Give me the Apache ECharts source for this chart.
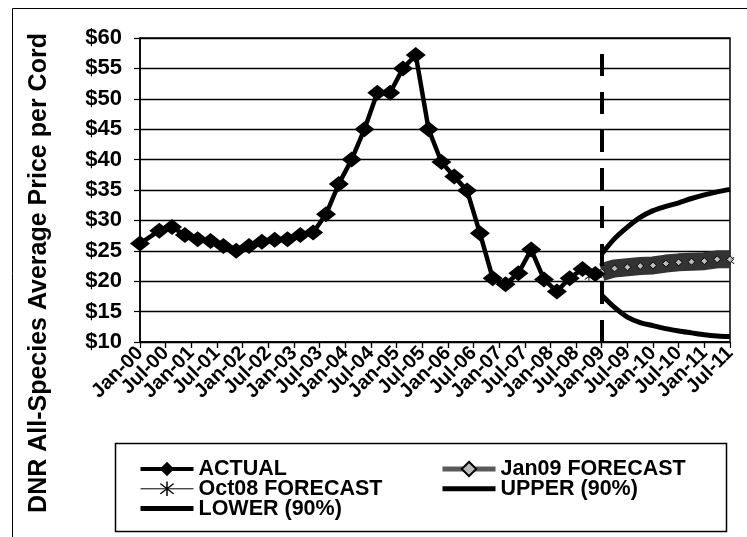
<!DOCTYPE html>
<html><head><meta charset="utf-8">
<script src="https://cdn.jsdelivr.net/npm/echarts@6/dist/echarts.min.js"></script>
<style>html,body{margin:0;padding:0;background:#fff}#c{width:747px;height:537px}</style>
</head><body><div id="c"></div><script>
// Tick labels (one every 6 months, starting Jan-00 = month 0)
const tickLabels = ['Jan-00','Jul-00','Jan-01','Jul-01','Jan-02','Jul-02','Jan-03','Jul-03','Jan-04','Jul-04','Jan-05','Jul-05','Jan-06','Jul-06','Jan-07','Jul-07','Jan-08','Jul-08','Jan-09','Jul-09','Jan-10','Jul-10','Jan-11','Jul-11'];
// ACTUAL (months since Jan-00, $/cord)
const actualMonths = [0,4.5,7.5,10.5,13.5,16.5,19.5,22.5,25.5,28.5,31.5,34.5,37.5,40.5,43.5,46.5,49.5,52.5,55.5,58.5,61.5,64.5,67.5,70.5,73.5,76.5,79.5,82.5,85.5,88.5,91.5,94.5,97.5,100.5,103.5,106.5];
const actualValues = [26.2,28.3,28.9,27.6,26.9,26.6,25.8,25.0,25.8,26.5,26.8,26.9,27.6,28.0,31.0,36.0,40.0,45.0,51.0,51.0,55.0,57.2,45.0,39.6,37.2,34.9,27.9,20.5,19.5,21.3,25.2,20.3,18.3,20.5,22.0,21.2];
// Jan09 FORECAST
const jan09Months = [108,111,114,117,120,123,126,129,132,135,138];
const jan09Values = [21.5,22.1,22.3,22.5,22.6,22.9,23.1,23.2,23.3,23.6,23.6];
// Oct08 FORECAST
const oct08Months = [105,108,111,114,117,120,123,126,129,132,135,138];
const oct08Values = [20.8,21.3,21.7,22.0,22.2,22.4,22.6,22.8,23.0,23.1,23.3,23.4];
// 90% bounds
const boundMonths = [108,111,114,117,120,123,126,129,132,135,138];
const upperValues = [24.5,27.0,28.9,30.5,31.6,32.3,32.9,33.6,34.2,34.7,35.1];
const lowerValues = [17.7,15.7,14.1,13.2,12.7,12.2,11.8,11.5,11.2,11.0,10.9];
const forecastStartMonth = 108;

const zip = (xs, ys) => xs.map((x, i) => [x, ys[i]]);
const FONT = 'Liberation Sans, Arial, sans-serif';
const asterisk = 'path://M9.2,0L10.8,0L10.8,20L9.2,20Z M2.3,3.5L3.5,2.3L17.7,16.5L16.5,17.7Z M16.5,2.3L17.7,3.5L3.5,17.7L2.3,16.5Z';
const X_MIN = 0, X_MAX = 138, X_STEP = 6;

const chart = echarts.init(document.getElementById('c'), null, {renderer: 'canvas'});
const legendText = {fontFamily: FONT, fontWeight: 'bold', fontSize: 21.5, color: '#000'};
const xLabelBase = {rotate: 45, margin: 8, color: '#000', fontFamily: FONT, fontWeight: 'bold', fontSize: 20, hideOverlap: false};
const lastIdx = tickLabels.length - 1;
chart.setOption({
  backgroundColor: '#fff',
  animation: false,
  grid: {left: 140, right: 17, top: 38, bottom: 195, containLabel: false, outerBoundsMode: 'none',
         show: true, borderColor: '#000', borderWidth: 1.5},
  xAxis: [
    { // inner tick labels
      type: 'value', min: X_MIN, max: X_MAX, interval: X_STEP, position: 'bottom',
      axisLine: {show: true, lineStyle: {color: '#000', width: 1.5}},
      axisTick: {show: true, length: 6, lineStyle: {color: '#000', width: 1.2}},
      splitLine: {show: false},
      axisLabel: Object.assign({}, xLabelBase, {showMinLabel: false, showMaxLabel: false,
        formatter: v => tickLabels[Math.round(v / X_STEP)] || ''})
    },
    { // first and last tick labels + ticks
      type: 'value', min: X_MIN, max: X_MAX, interval: X_STEP, position: 'bottom', offset: 0,
      axisLine: {show: false},
      axisTick: {show: true, length: 6, lineStyle: {color: '#000', width: 1.2}},
      splitLine: {show: false},
      axisLabel: Object.assign({}, xLabelBase, {showMinLabel: true, showMaxLabel: true,
        formatter: v => { const i = Math.round(v / X_STEP); return (i === 0 || i === lastIdx) ? tickLabels[i] : ''; }})
    }
  ],
  yAxis: {
    type: 'value', min: 10, max: 60, interval: 5,
    name: 'DNR All-Species Average Price per Cord', nameLocation: 'middle', nameGap: 88,
    nameTextStyle: {fontFamily: FONT, fontWeight: 'bold', fontSize: 25, color: '#000', padding: [0, 166, 0, 0]},
    axisLine: {show: true, lineStyle: {color: '#000', width: 1.5}},
    axisTick: {show: true, length: 6, lineStyle: {color: '#000', width: 1.2}},
    splitLine: {show: true, lineStyle: {color: '#000', width: 1.3}},
    axisLabel: {margin: 18, color: '#000', fontFamily: FONT, fontWeight: 'bold', fontSize: 22, formatter: '${value}',
      showMinLabel: true, showMaxLabel: true}
  },
  legend: [
    {data: [
        {name: 'ACTUAL', lineStyle: {width: 4, color: '#000'}},
        {name: 'Oct08 FORECAST', lineStyle: {width: 1, color: '#000'}},
        {name: 'LOWER (90%)', lineStyle: {width: 5, color: '#000'}, itemStyle: {opacity: 0}}
     ], orient: 'vertical', left: 138, top: 458, padding: 0,
     itemWidth: 53, itemHeight: 18, itemGap: -2.2, textStyle: legendText, selectedMode: false},
    {data: [
        {name: 'Jan09 FORECAST', lineStyle: {width: 5, color: '#5a5a5a'}},
        {name: 'UPPER (90%)', lineStyle: {width: 5, color: '#000'}, itemStyle: {opacity: 0}}
     ], orient: 'vertical', left: 440, top: 458, padding: 0,
     itemWidth: 53, itemHeight: 18, itemGap: -2.2, textStyle: legendText, selectedMode: false}
  ],
  graphic: [
    {type: 'rect', left: 10, top: 6, shape: {width: 735, height: 545}, style: {fill: 'none', stroke: '#000', lineWidth: 1}, silent: true},
    {type: 'rect', left: 113, top: 441, shape: {width: 611, height: 88}, style: {fill: 'none', stroke: '#000', lineWidth: 1.5}, silent: true}
  ],
  series: [
    {
      name: 'ACTUAL', type: 'line', data: zip(actualMonths, actualValues), z: 5,
      symbol: 'diamond', symbolSize: [20, 16], showAllSymbol: true,
      itemStyle: {color: '#000'}, lineStyle: {color: '#000', width: 4.5},
      markLine: {
        silent: true, symbol: 'none', label: {show: false},
        lineStyle: {color: '#000', width: 4, type: [22, 16]},
        data: [{xAxis: forecastStartMonth}]
      }
    },
    {
      name: 'Oct08 FORECAST', type: 'line', data: zip(oct08Months, oct08Values), z: 3,
      symbol: asterisk, symbolSize: 9, showAllSymbol: true,
      itemStyle: {color: '#000'}, lineStyle: {color: '#000', width: 1}
    },
    {
      name: 'Jan09 FORECAST', type: 'line', data: zip(jan09Months, jan09Values), z: 4,
      symbol: 'diamond', symbolSize: 7, showAllSymbol: true,
      itemStyle: {color: '#bbb', borderColor: '#000', borderWidth: 1},
      lineStyle: {color: '#333', width: 18}
    },
    {
      name: 'UPPER (90%)', type: 'line', data: zip(boundMonths, upperValues), z: 4,
      symbol: 'rect', symbolSize: [4, 4], showSymbol: false, smooth: 0.3,
      itemStyle: {color: '#000'}, lineStyle: {color: '#000', width: 5}
    },
    {
      name: 'LOWER (90%)', type: 'line', data: zip(boundMonths, lowerValues), z: 4,
      symbol: 'rect', symbolSize: [4, 4], showSymbol: false, smooth: 0.3,
      itemStyle: {color: '#000'}, lineStyle: {color: '#000', width: 5}
    }
  ]
});
</script></body></html>
